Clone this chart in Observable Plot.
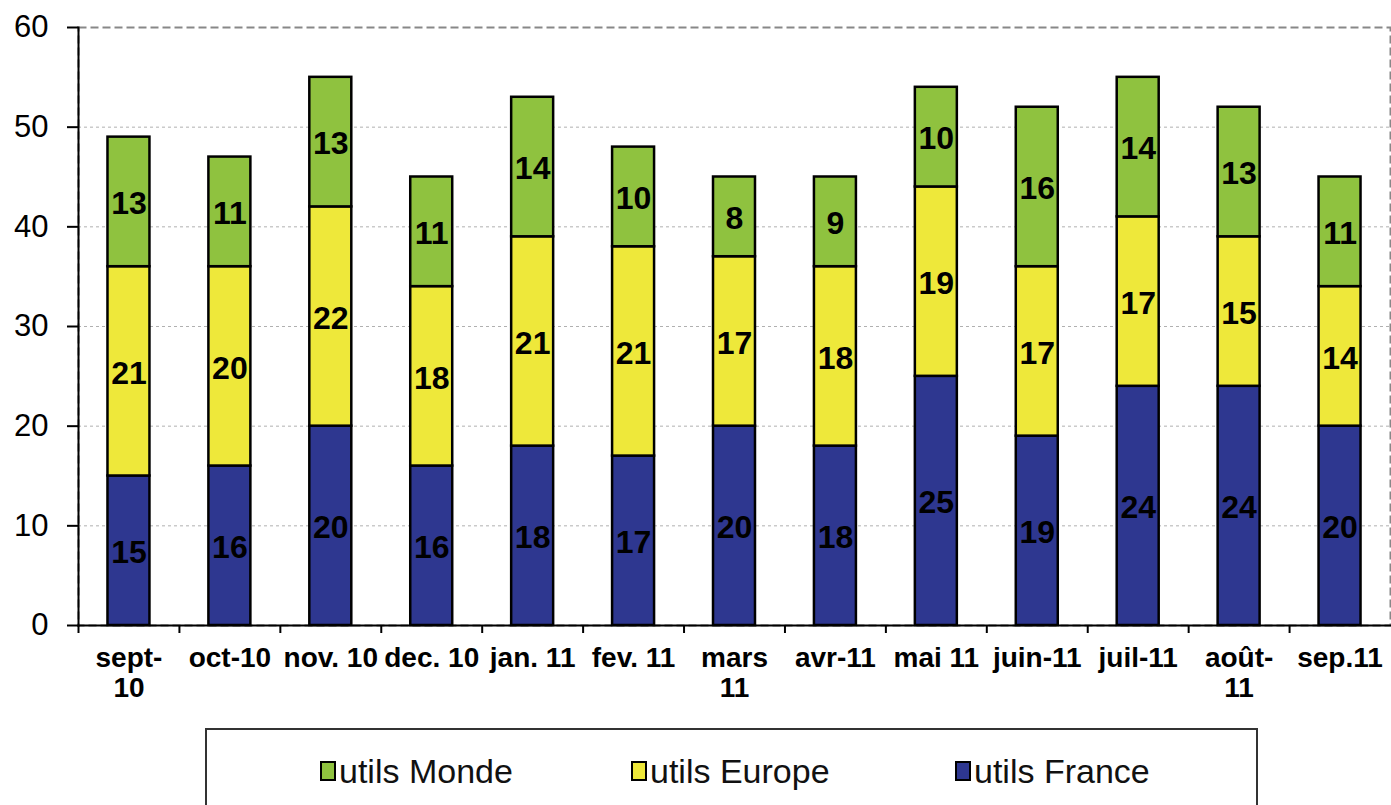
<!DOCTYPE html>
<html><head><meta charset="utf-8">
<script src="https://cdn.jsdelivr.net/npm/d3@7"></script>
<script src="https://cdn.jsdelivr.net/npm/@observablehq/plot@0.6"></script>
<style>
body{margin:0;background:#fff;font-family:"Liberation Sans",Arial,sans-serif;}
#wrap{position:relative;width:1391px;height:805px;overflow:hidden;background:#fff;}
#legend{position:absolute;left:205px;top:728px;width:1053px;height:110px;border:2px solid #333;box-sizing:border-box;background:#fff;}
.item{position:absolute;top:23px;display:flex;align-items:center;font-size:34px;color:#111;line-height:36px;}
.sw{width:12px;height:16px;border:2px solid #000;margin-right:3px;}
</style></head><body><div id="wrap"><div id="chart"></div><div id="legend"></div></div>
<script>
const months = ["sept-10","oct-10","nov. 10","dec. 10","jan. 11","fev. 11","mars 11","avr-11","mai 11","juin-11","juil-11","août-11","sep.11"];
const monthLabels = ["sept-\n10","oct-10","nov. 10","dec. 10","jan. 11","fev. 11","mars\n11","avr-11","mai 11","juin-11","juil-11","août-\n11","sep.11"];
const series = ["utils France","utils Europe","utils Monde"];
const seriesColors = ["#2e3790","#eee83a","#8fc23f"];
const france = [15,16,20,16,18,17,20,18,25,19,24,24,20];
const europe = [21,20,22,18,21,21,17,18,19,17,17,15,14];
const monde  = [13,11,13,11,14,10,8,9,10,16,14,13,11];
const yTicks = [0,10,20,30,40,50,60];
const gridTicks = [10,20,30,40,50];
const legendOrder = ["utils Monde","utils Europe","utils France"];

const rows = months.flatMap((m,i)=>[
  {month:m, series:series[0], value:france[i]},
  {month:m, series:series[1], value:europe[i]},
  {month:m, series:series[2], value:monde[i]}
]);
const labelOf = new Map(months.map((m,i)=>[m, monthLabels[i]]));

const W = 1391, H = 725, ML = 78, MR = 1, MT = 27, MB = 100;
const step = (W - ML - MR) / months.length;
const font = '"Liberation Sans", Arial, sans-serif';

const chart = Plot.plot({
  width: W, height: H,
  marginLeft: ML, marginRight: MR, marginTop: MT, marginBottom: MB,
  style: {fontFamily: font, background: "#fff", color: "#000", overflow: "visible"},
  x: {domain: months, paddingInner: 0.584, paddingOuter: 0.292, round: false, axis: null},
  y: {domain: [0,60], axis: null},
  color: {domain: series, range: seriesColors},
  marks: [
    Plot.gridY(gridTicks, {stroke: "#b0b0b0", strokeOpacity: 1, strokeDasharray: "3,3", strokeWidth: 1}),
    Plot.frame({stroke: "#888", strokeDasharray: "8,4", strokeWidth: 2}),
    Plot.barY(rows, Plot.stackY({x: "month", y: "value", fill: "series", order: series, stroke: "#000", strokeWidth: 2.5})),
    Plot.text(rows, Plot.stackY({x: "month", y: "value", z: "series", order: series, text: d => String(d.value), fontSize: 32, fontWeight: "bold", fill: "#000", dy: 2})),
    Plot.frame({anchor: "left", stroke: "#000", strokeWidth: 2}),
    Plot.frame({anchor: "bottom", stroke: "#000", strokeWidth: 2}),
    Plot.axisY({ticks: yTicks, tickSize: 11, tickPadding: 19, fontSize: 31, tickFormat: d => String(d), stroke: "#000", strokeWidth: 2, fill: "#000", label: null}),
    Plot.axisX({tickSize: 8, tickFormat: () => "", dx: -step/2, stroke: "#000", strokeWidth: 2, label: null}),
    Plot.text(months, {x: d => d, text: d => labelOf.get(d), frameAnchor: "bottom", lineAnchor: "top", dy: 20, fontSize: 28, fontWeight: "bold", lineHeight: 1.08, fill: "#000"})
  ]
});
document.getElementById("chart").appendChild(chart);

const legend = document.getElementById("legend");
const legendLeft = [113, 424, 748];
legendOrder.forEach((s,i)=>{
  const it = document.createElement("div");
  it.className = "item";
  it.style.left = legendLeft[i] + "px";
  const sw = document.createElement("div");
  sw.className = "sw";
  sw.style.background = seriesColors[series.indexOf(s)];
  const t = document.createElement("span");
  t.textContent = s;
  it.appendChild(sw); it.appendChild(t);
  legend.appendChild(it);
});
</script></body></html>
